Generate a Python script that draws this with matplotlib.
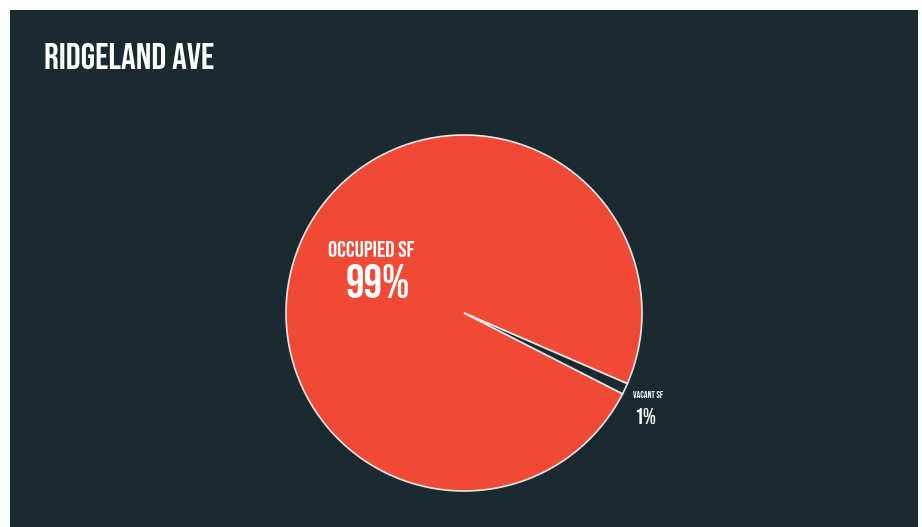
import matplotlib
matplotlib.use("Agg")
import matplotlib.pyplot as plt
from matplotlib.patches import Rectangle

title = "RIDGELAND AVE"
categories = ["OCCUPIED SF", "VACANT SF"]
values = [99, 1]
pct_labels = ["99%", "1%"]
colors = ["#f04a36", "#1b2a30"]

W, H = 922, 527
fig = plt.figure(figsize=(W / 100, H / 100), dpi=100, facecolor="white")
fig.add_artist(Rectangle((10 / W, 0), 908 / W, 517 / H, transform=fig.transFigure,
                         facecolor="#1b2a30", edgecolor="none", zorder=0))

font = ["Bebas Neue", "DejaVu Sans"]
fig.text(44 / W, 1 - 69 / H, title, color="white", fontsize=26.5,
         family=font, va="baseline", ha="left")

cx, cy, r = 464, 313, 178
ax = fig.add_axes([(cx - r) / W, (H - cy - r) / H, 2 * r / W, 2 * r / H])
ax.set_facecolor("none")
ax.pie(values, colors=colors, startangle=-23.4, counterclock=True,
       wedgeprops=dict(edgecolor="#e8e8e8", linewidth=1.2))
ax.set_xlim(-1, 1)
ax.set_ylim(-1, 1)
ax.set_aspect("equal")
ax.axis("off")

# labels
fig.text(371 / W, 1 - 257 / H, categories[0], color="white", fontsize=16.5,
         family=font, ha="center", va="baseline")
fig.text(378 / W, 1 - 298 / H, pct_labels[0], color="white", fontsize=33.5,
         family=font, ha="center", va="baseline")
fig.text(648 / W, 1 - 398 / H, categories[1], color="white", fontsize=6.7,
         family=font, ha="center", va="baseline")
fig.text(645 / W, 1 - 424 / H, pct_labels[1], color="white", fontsize=16,
         family=font, ha="center", va="baseline")

fig.savefig("out.png", dpi=100, facecolor="white")
